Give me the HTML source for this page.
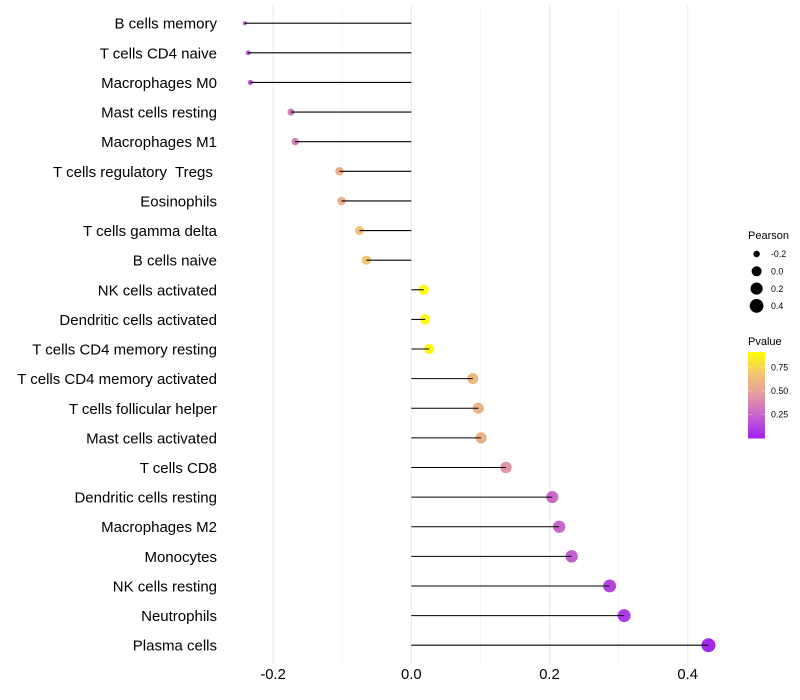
<!DOCTYPE html>
<html>
<head>
<meta charset="utf-8">
<style>
html,body{margin:0;padding:0;background:#fff;width:800px;height:700px;overflow:hidden}
svg{display:block}
text{font-family:"Liberation Sans",sans-serif;white-space:pre}
</style>
</head>
<body>
<svg id="chart" width="800" height="700" viewBox="0 0 800 700" xmlns="http://www.w3.org/2000/svg">
<defs>
<linearGradient id="pgrad" x1="0" y1="1" x2="0" y2="0"></linearGradient>
</defs>
<rect width="800" height="700" fill="#fff"/>
</svg>
<script>
const categories = ["B cells memory","T cells CD4 naive","Macrophages M0","Mast cells resting","Macrophages M1","T cells regulatory  Tregs ","Eosinophils","T cells gamma delta","B cells naive","NK cells activated","Dendritic cells activated","T cells CD4 memory resting","T cells CD4 memory activated","T cells follicular helper","Mast cells activated","T cells CD8","Dendritic cells resting","Macrophages M2","Monocytes","NK cells resting","Neutrophils","Plasma cells"];
const pearson = [-0.241,-0.236,-0.233,-0.174,-0.168,-0.104,-0.101,-0.075,-0.065,0.018,0.020,0.026,0.089,0.097,0.101,0.137,0.204,0.214,0.232,0.287,0.308,0.430];
const pvalue = [0.20,0.21,0.22,0.36,0.38,0.62,0.63,0.73,0.76,0.98,0.98,0.97,0.67,0.64,0.63,0.48,0.30,0.28,0.25,0.14,0.11,0.03];
const xTicks = [-0.2,0.0,0.2,0.4];
const xMinorTicks = [-0.1,0.1,0.3];
const xTickLabels = ["-0.2","0.0","0.2","0.4"];
const sizeLegendValues = [-0.2,0.0,0.2,0.4];
const sizeLegendLabels = ["-0.2","0.0","0.2","0.4"];
const colorLegendValues = [0.25,0.50,0.75];
const colorLegendLabels = ["0.25","0.50","0.75"];
const colorStops = [[0,"#a020f0"],[0.25,"#c35fd0"],[0.5,"#e29aa2"],[0.75,"#f3c570"],[1,"#ffff00"]];

const NS = "http://www.w3.org/2000/svg";
const svg = document.getElementById("chart");
const panelTop = 5, panelBottom = 664;
const xScale = v => 411.3 + v * 691;
const yScale = i => 23.2 + i * 29.62;
const rScale = v => 2 + 5 * Math.sqrt(Math.max(0, (v + 0.241) / 0.671));
function hex(c){return [1,3,5].map(k=>parseInt(c.substr(k,2),16));}
function colorScale(p){
  for(let k=1;k<colorStops.length;k++){
    if(p<=colorStops[k][0]){
      const a=colorStops[k-1],b=colorStops[k];
      const t=(p-a[0])/(b[0]-a[0]);
      const A=hex(a[1]),B=hex(b[1]);
      return "rgb("+A.map((u,j)=>Math.round(u+(B[j]-u)*t)).join(",")+")";
    }
  }
  return colorStops[colorStops.length-1][1];
}
function mk(tag,attrs,parent){
  const e=document.createElementNS(NS,tag);
  for(const k in attrs)e.setAttribute(k,attrs[k]);
  (parent||svg).appendChild(e);
  return e;
}
const grad=document.getElementById("pgrad");
colorStops.forEach(s=>{mk("stop",{offset:s[0],"stop-color":s[1]},grad);});

xMinorTicks.forEach(v=>{
  const l=mk("line",{x1:xScale(v),x2:xScale(v),y1:panelTop,y2:panelBottom,stroke:"#f0f0f0","stroke-width":0.6});
  
  
});
xTicks.forEach((v,i)=>{
  const l=mk("line",{x1:xScale(v),x2:xScale(v),y1:panelTop,y2:panelBottom,stroke:"#ebebeb","stroke-width":1.07});
  
  
  const t=mk("text",{x:xScale(v),y:679,"text-anchor":"middle","font-size":14.8,fill:"#000"});
  t.textContent=xTickLabels[i];
  
  
});
categories.forEach((c,i)=>{
  const y=yScale(i);
  const t=mk("text",{x:217,y:y+5.5,"text-anchor":"end","font-size":15,fill:"#000"});
  t.textContent=c;
  
  
  const d=mk("circle",{cx:xScale(pearson[i]),cy:y,r:rScale(pearson[i]),fill:colorScale(pvalue[i])});
  
  
});
categories.forEach((c,i)=>{
  const y=yScale(i);
  const l=mk("line",{x1:xScale(0),x2:xScale(pearson[i]),y1:y,y2:y,stroke:"#000","stroke-width":1.07});
  
  
});

const sizeTitle=mk("text",{x:748,y:239,"font-size":11,fill:"#000"});
sizeTitle.textContent="Pearson";


sizeLegendValues.forEach((v,i)=>{
  const y=254+i*17.3;
  const d=mk("circle",{cx:756.6,cy:y,r:rScale(v),fill:"#000"});
  
  
  const t=mk("text",{x:771,y:y+3.2,"font-size":8.8,fill:"#000"});
  t.textContent=sizeLegendLabels[i];
  
  
});

const colorTitle=mk("text",{x:748,y:345,"font-size":11,fill:"#000"});
colorTitle.textContent="Pvalue";


const barTop=352,barBottom=438.5,barLeft=748,barRight=765;
const bar=mk("rect",{x:barLeft,y:barTop,width:barRight-barLeft,height:barBottom-barTop,fill:"url(#pgrad)"});


const cbY=p=>438 - p*94;
colorLegendValues.forEach((p,i)=>{
  const y=cbY(p);
  [[barLeft,barLeft+3.4],[barRight-3.4,barRight]].forEach(seg=>{
    const l=mk("line",{x1:seg[0],x2:seg[1],y1:y,y2:y,stroke:"#fff","stroke-width":0.5,"stroke-opacity":0.7});
    
    
  });
  const t=mk("text",{x:771,y:y+3.2,"font-size":8.8,fill:"#000"});
  t.textContent=colorLegendLabels[i];
  
  
});
</script>
</body>
</html>
